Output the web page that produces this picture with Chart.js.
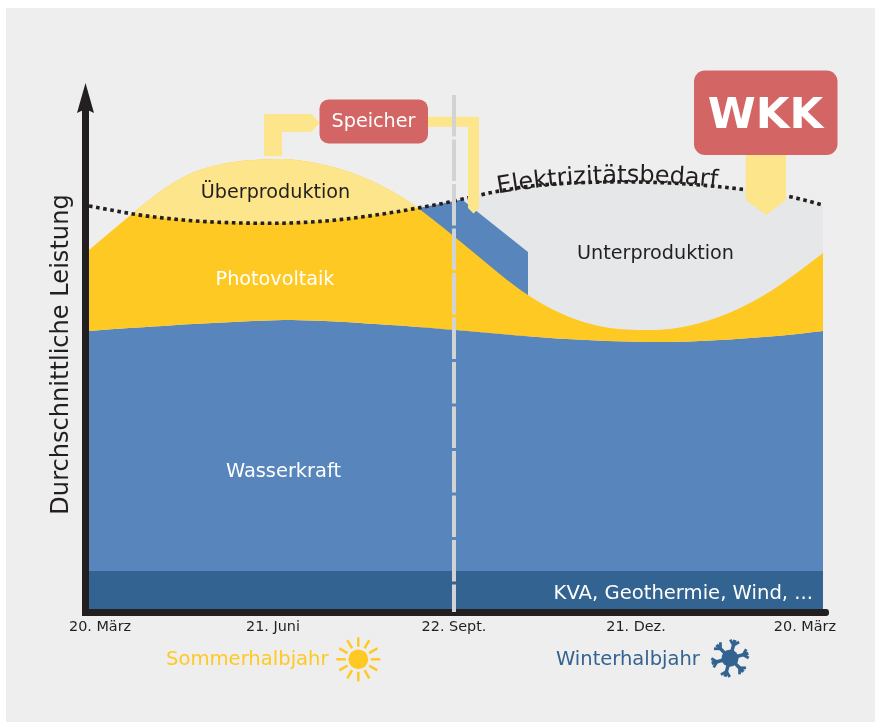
<!DOCTYPE html>
<html lang="de"><head><meta charset="utf-8">
<style>
html,body{margin:0;padding:0;background:#fff;overflow:hidden}
#wrap{position:relative;width:875px;height:722px}
canvas{position:absolute;left:0;top:0}
svg{position:absolute;left:0;top:0;pointer-events:none}
</style>
<script src="https://cdn.jsdelivr.net/npm/chart.js@4"></script>
</head><body>
<div id="wrap">
<canvas id="c" width="875" height="722"></canvas>
<svg width="875" height="722" viewBox="0 0 875 722">
<defs><path id="arc" d="M498,193.5 Q608,174 725,188"/></defs>
<text font-family="DejaVu Sans" font-size="24" fill="#231f20"><textPath href="#arc">Elektrizitätsbedarf</textPath></text>
</svg>
</div>
<script>
const days    = [0,21.9,31.8,41.8,51.7,61.7,71.6,81.6,96.5,104.9,114.9,124.8,134.8,144.7,154.7,163.6,174.5,182.5,191,199.4,207.9,218.3,227.8,237.7,247.6,257.6,267.5,277.5,283.9,293.9,303.8,313.8,323.7,333.7,343.6,353.6,365];
const kvaBand = days.map(()=>8.2);
const hydro   = [56.2,56.84,57.1,57.36,57.6,57.82,58,58.2,58.4,58.36,58.24,58.06,57.82,57.56,57.28,57,56.66,56.4,56.1,55.8,55.5,55.14,54.86,54.6,54.4,54.22,54.1,54,54,54.06,54.2,54.4,54.66,54.94,55.26,55.66,56.2];
const pvGross = [72.4,79.8,83,85.8,87.9,89.2,90,90.4,90.6,90.3,89.6,88.6,87.2,85.4,83.2,80.8,77.4,74.8,72,69.2,66.4,63.4,61.1,59.2,57.8,56.9,56.5,56.4,56.44,56.9,57.8,59.1,60.8,62.9,65.4,68.3,71.8];
const demand  = [81.2,79.6,79.04,78.6,78.24,78,77.84,77.76,77.76,77.88,78.12,78.48,78.96,79.52,80.16,80.8,81.6,82.28,83.08,83.84,84.48,85.12,85.5,85.76,85.92,86,86.02,85.96,85.88,85.68,85.4,85.04,84.6,84.08,83.44,82.6,81.4];
const storageDays = [163.6,185.5,218.3];
const storageTop  = [80.8,82.5,72.0];
const tickDays   = [5.5,91.5,181.5,272,356];
const tickLabels = ['20. März','21. Juni','22. Sept.','21. Dez.','20. März'];
const seasonDay = 181.5;
const seasonTop = 103.4;
const yMax = 105.4;

const INK='#231f20', YEL='#ffc924', PALE='#fce58a', BLUE='#5886bc', DARK='#336390', RED='#d46565', FONT='"DejaVu Sans"';
const xy=(xs,ys)=>xs.map((x,i)=>({x,y:ys[i]}));
const deficitIdx=days.map((d,i)=>i).filter(i=>days[i]>=163.6);
const base={pointRadius:0,borderWidth:0,tension:0.33};

function poly(ctx,pts,color){ctx.fillStyle=color;ctx.beginPath();pts.forEach((p,i)=>i?ctx.lineTo(p[0],p[1]):ctx.moveTo(p[0],p[1]));ctx.closePath();ctx.fill();}
function box(ctx,x,y,w,h,r,color){ctx.fillStyle=color;ctx.beginPath();ctx.roundRect(x,y,w,h,r);ctx.fill();}
function label(ctx,t,x,y,color,size,align,weight){ctx.font=(weight||'normal')+' '+size+'px '+FONT;ctx.fillStyle=color;ctx.textAlign=align||'left';ctx.textBaseline='alphabetic';ctx.fillText(t,x,y);}

const deco={id:'deco',
 beforeDraw(ch){const c=ch.ctx;c.save();c.fillStyle='#fff';c.fillRect(0,0,875,722);c.fillStyle='#eeeeee';c.fillRect(6,8,869,714);c.restore();},
 afterDatasetsDraw(ch){
  const c=ch.ctx,{x,y}=ch.scales;c.save();
  const px=v=>x.getPixelForValue(v), py=v=>y.getPixelForValue(v);
  // axes
  const L=px(0),B=py(0),R=px(365),T=py(yMax);
  c.fillStyle=INK;
  c.fillRect(L-7,T+22,7,B-T-22+4);
  c.beginPath();c.roundRect(L-7,B-3,R-L+13,7,3);c.fill();
  poly(c,[[L-3.5,T-2],[L+5,T+28],[L-3.5,T+24],[L-12,T+28]],INK);
  // arrows
  poly(c,[[264,156],[264,114],[311.5,114],[319.5,122.8],[311.5,131.7],[282,131.7],[282,156]],PALE);
  poly(c,[[428,116.7],[479,116.7],[479,208],[473.5,213.5],[468,208],[468,126.7],[428,126.7]],PALE);
  poly(c,[[745.7,155],[786,155],[786,200],[766,215],[745.7,200]],PALE);
  // season divider
  c.strokeStyle='#d1d3d4';c.lineWidth=4;c.setLineDash([41.5,3]);c.beginPath();
  c.moveTo(px(seasonDay),py(seasonTop));c.lineTo(px(seasonDay),B);c.stroke();c.setLineDash([]);
  // boxes
  box(c,319.5,99.5,108.5,44,9,RED);
  box(c,694,70.5,143.5,84.5,11,RED);
  label(c,'Speicher',373.5,127,'#fff',19.2,'center');
  label(c,'WKK',765.5,128.3,'#fff',43.5,'center','bold');
  // region labels
  label(c,'Überproduktion',275.5,198,INK,19.2,'center');
  label(c,'Photovoltaik',275,285,'#fff',19.2,'center');
  label(c,'Wasserkraft',283.5,477,'#fff',19.4,'center');
  label(c,'Unterproduktion',655.5,259,INK,19.2,'center');
  label(c,'KVA, Geothermie, Wind, ...',813,599,'#fff',19.6,'right');
  label(c,'Sommerhalbjahr',166,664.5,YEL,19.6,'left');
  label(c,'Winterhalbjahr',556,664.5,DARK,19.5,'left');
  c.save();c.translate(67.5,354.5);c.rotate(-Math.PI/2);label(c,'Durchschnittliche Leistung',0,0,INK,24.1,'center');c.restore();
  // sun
  const sx=358.3,sy=659.3;c.fillStyle=YEL;c.beginPath();c.arc(sx,sy,9.9,0,7);c.fill();
  c.strokeStyle=YEL;c.lineWidth=2.5;
  for(let i=0;i<12;i++){const a=i*Math.PI/6;c.beginPath();c.moveTo(sx+12.5*Math.cos(a),sy+12.5*Math.sin(a));c.lineTo(sx+22*Math.cos(a),sy+22*Math.sin(a));c.stroke();}
  // snowflake
  const fx=730,fy=658.3;c.fillStyle=DARK;c.beginPath();c.arc(fx,fy,8.5,0,7);c.fill();
  c.strokeStyle=DARK;
  for(let i=0;i<6;i++){const a=(-75+i*60)*Math.PI/180;const ca=Math.cos(a),sa=Math.sin(a);
   c.lineWidth=3.5;c.beginPath();c.moveTo(fx,fy);c.lineTo(fx+19*ca,fy+19*sa);c.stroke();
   c.lineWidth=2.8;for(const s of[-1,1]){const b=a+s*Math.PI/4;c.beginPath();c.moveTo(fx+13.5*ca,fy+13.5*sa);c.lineTo(fx+13.5*ca+6.5*Math.cos(b),fy+13.5*sa+6.5*Math.sin(b));c.stroke();}
  }
  c.restore();
 }};

new Chart(document.getElementById('c'),{
 type:'line',
 data:{datasets:[
  {...base,label:'KVA, Geothermie, Wind, ...',data:xy(days,kvaBand),fill:'origin',backgroundColor:DARK,order:3},
  {...base,label:'Wasserkraft',data:xy(days,hydro),fill:0,backgroundColor:BLUE,order:2},
  {...base,label:'Photovoltaik',data:xy(days,pvGross),fill:1,backgroundColor:YEL,order:1.5},
  {...base,label:'Überproduktion',data:xy(days,pvGross),fill:{target:6,above:PALE,below:'rgba(0,0,0,0)'},order:1},
  {...base,label:'Unterproduktion',data:deficitIdx.map(i=>({x:days[i],y:demand[i]})),fill:1,backgroundColor:'#e6e7e9',order:5},
  {pointRadius:0,borderWidth:0,tension:0,label:'Speicher',data:xy(storageDays,storageTop),fill:1,backgroundColor:BLUE,order:4},
  {...base,label:'Elektrizitätsbedarf',data:xy(days,demand),fill:false,borderWidth:3.6,borderColor:INK,borderDash:[3.6,3.6],order:0}
 ]},
 options:{
  responsive:false,animation:false,
  layout:{padding:{left:89,right:52,top:85,bottom:0}},
  plugins:{legend:{display:false},title:{display:false},tooltip:{enabled:false}},
  scales:{
   x:{type:'linear',min:0,max:365,position:'bottom',
      afterBuildTicks:s=>{s.ticks=tickDays.map(v=>({value:v}));},
      afterFit:s=>{s.height=110;},
      border:{display:false},grid:{display:false,drawTicks:false},
      ticks:{autoSkip:false,maxRotation:0,minRotation:0,padding:7,color:INK,font:{family:FONT,size:14.4},
        callback:(v,i)=>tickLabels[i]}},
   y:{type:'linear',min:0,max:yMax,display:false}
  }
 },
 plugins:[deco]
});
</script>
</body></html>
